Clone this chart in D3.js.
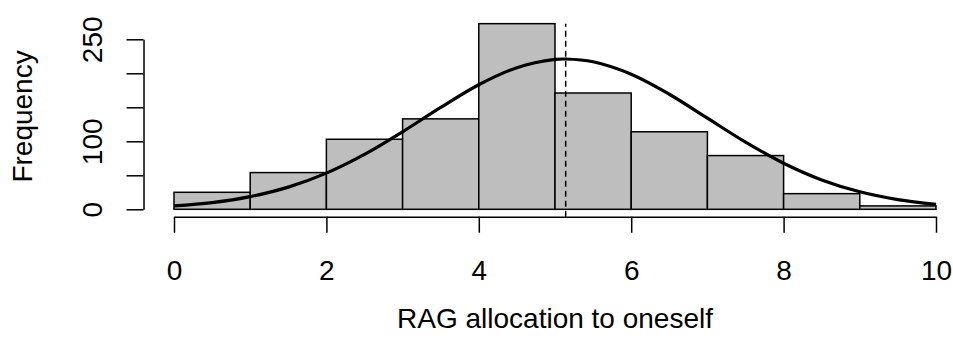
<!DOCTYPE html>
<html>
<head>
<meta charset="utf-8">
<script src="https://cdn.jsdelivr.net/npm/d3@7"></script>
<style>
  body { margin: 0; background: #fff; }
  text { font-family: "Liberation Sans", Arial, Helvetica, sans-serif; fill: #000; }
</style>
</head>
<body>
<svg id="chart"></svg>
<script>
// histogram bins (lower edges) and counts
const binStarts = [0, 1, 2, 3, 4, 5, 6, 7, 8, 9];
const counts = [25, 54, 103, 133, 273, 171, 114, 79, 23, 5];
const binWidth = 1;

// fitted normal curve
const curveX = [0, 0.5, 1, 1.5, 2, 2.5, 3, 3.5, 4, 4.5, 5, 5.14, 5.5, 6, 6.5, 7, 7.5, 8, 8.5, 9, 9.5, 10];
const curveY = [4.9, 9.8, 18.6, 32.6, 53.2, 80.7, 114, 149.8, 183.2, 208.3, 220.4, 221, 216.9, 198.6, 169.2, 134, 98.8, 67.8, 43.2, 25.7, 14.2, 7.3];

const meanValue = 5.14;

const xTicks = [0, 2, 4, 6, 8, 10];
const yTicks = [0, 50, 100, 150, 200, 250];
const yTickLabels = ["0", "", "100", "", "", "250"];

const width = 953, height = 350;
const fontSize = 28;

const svg = d3.select('#chart')
    .attr('width', width)
    .attr('height', height);

// plot region follows R's 4% axis extension
const x = d3.scaleLinear().domain([0, 10]).range([174, 936]);
const y = d3.scaleLinear().domain([0, 250]).range([209.3, 39.3]);

const usrLeft = x(-0.4), usrBottom = y(-0.04 * 273), usrTop = y(273 * 1.04);

// bars
svg.append('g')
    .selectAll('rect')
    .data(counts)
    .join('rect')
    .attr('x', (d, i) => x(binStarts[i]))
    .attr('y', d => y(d))
    .attr('width', (d, i) => x(binStarts[i] + binWidth) - x(binStarts[i]))
    .attr('height', d => y(0) - y(d))
    .attr('fill', '#bebebe')
    .attr('stroke', '#000')
    .attr('stroke-width', 1.5);

// x axis
const xAxis = svg.append('g')
    .attr('transform', 'translate(0,' + usrBottom + ')')
    .call(d3.axisBottom(x).tickValues(xTicks).tickFormat(d3.format('d')).tickSize(16).tickPadding(0).tickSizeOuter(0));
xAxis.select('.domain').attr('stroke-width', 1.5);
xAxis.selectAll('.tick line').attr('stroke-width', 1.5);
xAxis.selectAll('.tick text')
    .attr('y', 280 - usrBottom)
    .attr('dy', null)
    .style('font-size', fontSize + 'px')
    .style('font-family', '"Liberation Sans", Arial, sans-serif');

// y axis
const yAxis = svg.append('g')
    .attr('transform', 'translate(' + usrLeft + ',0)')
    .call(d3.axisLeft(y).tickValues(yTicks).tickFormat((d, i) => yTickLabels[i]).tickSize(17).tickSizeOuter(0));
yAxis.select('.domain').attr('stroke-width', 1.5);
yAxis.selectAll('.tick line').attr('stroke-width', 1.5);
yAxis.selectAll('.tick text')
    .attr('x', null).attr('dy', null)
    .attr('text-anchor', 'middle')
    .attr('transform', 'translate(' + (102 - usrLeft) + ',0) rotate(-90)')
    .style('font-size', fontSize + 'px')
    .style('font-family', '"Liberation Sans", Arial, sans-serif');

// normal curve
const line = d3.line()
    .x((d, i) => x(d))
    .y((d, i) => y(curveY[i]))
    .curve(d3.curveCatmullRom);

svg.append('path')
    .datum(curveX)
    .attr('d', line)
    .attr('fill', 'none')
    .attr('stroke', '#000')
    .attr('stroke-width', 3.2);

// mean line
svg.append('line')
    .attr('x1', x(meanValue)).attr('x2', x(meanValue))
    .attr('y1', usrBottom).attr('y2', y(273))
    .attr('stroke', '#000')
    .attr('stroke-width', 1.5)
    .attr('stroke-dasharray', '6,4');

// axis titles
svg.append('text')
    .attr('x', (usrLeft + x(10.4)) / 2)
    .attr('y', 328)
    .attr('text-anchor', 'middle')
    .style('font-size', fontSize + 'px')
    .text('RAG allocation to oneself');

svg.append('text')
    .attr('transform', 'translate(32,' + ((usrTop + usrBottom) / 2) + ') rotate(-90)')
    .attr('text-anchor', 'middle')
    .style('font-size', fontSize + 'px')
    .text('Frequency');
</script>
</body>
</html>
